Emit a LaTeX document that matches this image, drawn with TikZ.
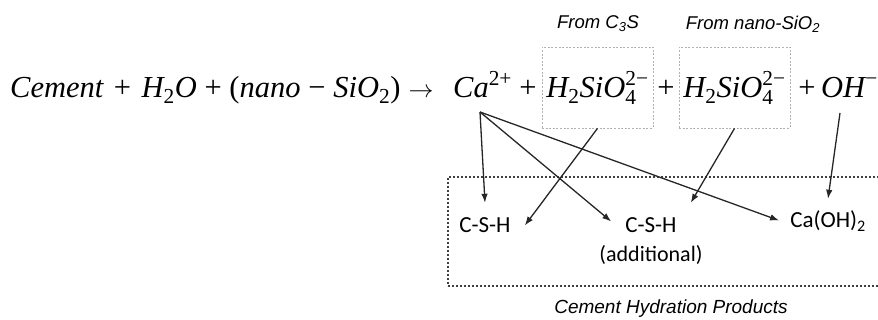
\documentclass[tikz,border=0pt]{standalone}
\usepackage[no-math]{fontspec}
\usepackage{amsmath}
\setmainfont{Liberation Sans}
\newfontfamily\calibri{Carlito}
\newfontfamily\eqfont{Liberation Serif}
\newcommand\vi[1]{\text{\eqfont\itshape #1}}
\newcommand\vr[1]{\text{\eqfont #1}}
\newcommand\eqpl{\mathbin{\vr{+}}}
\newcommand\eqmn{\mathbin{\vr{−}}}
\newcommand\eqlp{\mathopen{\vr{(}}}
\newcommand\eqrp{\mathclose{\vr{)}}}
\newcommand\eqsp{\medmuskip=5.6mu\relax\thickmuskip=6mu\relax}
\newcommand\sil{\vi{H}_{\vr{2}}\vi{SiO}_{\vr{4}}^{\vr{2−}}}
\usetikzlibrary{arrows.meta}
\begin{document}
\begin{tikzpicture}[x=1pt,y=-1pt,
  eq/.style={inner sep=0pt,font=\fontsize{30.5}{36}\selectfont},
  srcbox/.style={draw=gray!60,line width=0.8pt,dash pattern=on 2pt off 1.6pt,minimum width=111pt,minimum height=81pt,inner sep=0pt,font=\fontsize{30.5}{36}\selectfont,text height=21pt,text depth=0pt},
  prodbox/.style={draw=black!75,line width=2pt,dash pattern=on 2pt off 2pt,minimum width=437pt,minimum height=109pt,inner sep=0pt},
  prod/.style={font=\calibri\fontsize{23}{27}\selectfont,text height=15pt,text depth=0pt,inner xsep=14pt,inner ysep=15pt},
  lab/.style={font=\itshape\fontsize{18.5}{22}\selectfont,inner sep=0pt},
  arr/.style={draw=black!85,line width=1.3pt,-{Latex[length=9pt,width=6.5pt]}}]
\useasboundingbox (0,0) rectangle (878,320);
% equation
\node[eq,anchor=base west] (lhs) at (10,98) {$\eqsp\vi{Cement}\mkern2mu\eqpl\mkern2mu\vi{H}_{\vr{2}}\vi{O}\eqpl\eqlp\vi{nano}\eqmn\vi{SiO}_{\vr{2}}\eqrp\rightarrow$};
\node[eq,anchor=base west] (ca) at (453,98) {$\vi{Ca}^{\vr{2+}}$};
\node[eq,anchor=base] (p1) at (528,98) {\eqfont +};
\node[srcbox] (b1) at (597.5,87.5) {$\sil$};
\node[eq,anchor=base] (p2) at (666,98) {\eqfont +};
\node[srcbox] (b2) at (734.5,87.5) {$\sil$};
\node[eq,anchor=base] (p3) at (807,98) {\eqfont +};
\node[eq,anchor=base west] (oh) at (821,98) {$\vi{OH}^{\vr{−}}$};
\node[lab] (l1) at (598,24) {From C\textsubscript{3}S};
\node[lab] (l2) at (753,24) {From nano-SiO\textsubscript{2}};
% products
\node[prodbox] (pb) at (666.5,231.5) {};
\node[prod,anchor=base] (csh1) at (485,233) {C-S-H};
\node[prod,anchor=base] (csh2) at (651,233) {C-S-H};
\node[prod,anchor=base,inner xsep=11pt,inner ysep=14pt] (caoh) at (828,228) {Ca(OH)\textsubscript{2}};
\node[font=\calibri\fontsize{22}{26}\selectfont,anchor=base,inner sep=0pt] (add) at (651,262) {(additional)};
\node[lab,font=\itshape\fontsize{19}{22}\selectfont] (cap) at (671,309) {Cement Hydration Products};
% connectors
\coordinate (caB) at ([shift={(27pt,-14pt)}]ca.base west);
\coordinate (ohB) at ([shift={(19pt,-15pt)}]oh.base west);
\draw[arr] (caB) -- (csh1.north);
\draw[arr] (caB) -- ([yshift=4pt]csh2.west);
\draw[arr] (caB) -- (caoh.west);
\draw[arr] (b1.south) -- (csh1.east);
\draw[arr] (b2.south) -- (csh2.north east);
\draw[arr] (ohB) -- (caoh.north);
\end{tikzpicture}
\end{document}
